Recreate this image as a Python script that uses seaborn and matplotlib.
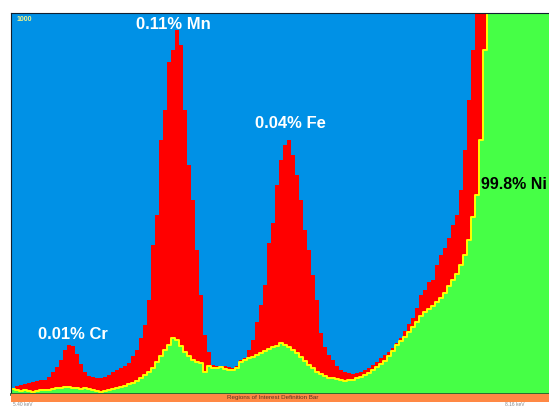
import numpy as np
import pandas as pd
import matplotlib
matplotlib.use("Agg")
import matplotlib.pyplot as plt
import seaborn as sns

# spectrum counts per channel (full scale = 1000)
red_counts = [16, 21, 24, 26, 29, 32, 34, 37, 37, 45, 58, 71, 89, 116, 129, 126, 105, 79, 58, 47,
              45, 42, 42, 45, 50, 58, 63, 68, 74, 81, 100, 116, 147, 181, 247, 391, 470, 667, 746, 872,
              903, 956, 916, 746, 601, 509, 378, 260, 155, 110, 76, 74, 71, 74, 71, 68, 74, 90, 95, 116,
              142, 189, 234, 286, 396, 449, 549, 614, 654, 667, 627, 575, 509, 431, 378, 312, 247, 160, 123, 102,
              89, 74, 63, 58, 55, 53, 55, 58, 63, 68, 76, 84, 95, 102, 110, 120, 135, 148, 165, 185,
              200, 225, 260, 273, 294, 299, 339, 365, 383, 410, 444, 470, 536, 641, 772, 903, 1200, 1200, 1200, 1200,
              1200, 1200, 1200, 1200, 1200, 1200, 1200, 1200, 1200, 1200, 1200, 1200, 1200, 1200, 1200]
green_counts = [13, 11, 8, 11, 8, 5, 8, 11, 11, 11, 13, 16, 16, 18, 18, 16, 16, 13, 16, 13,
                11, 8, 5, 8, 11, 13, 16, 18, 21, 26, 29, 34, 42, 50, 58, 68, 84, 100, 116, 129,
                147, 142, 126, 110, 100, 89, 84, 81, 58, 74, 68, 68, 71, 66, 63, 63, 68, 84, 89, 95,
                97, 102, 108, 113, 118, 123, 126, 134, 129, 123, 116, 108, 97, 87, 76, 68, 58, 53, 47, 42,
                42, 39, 37, 34, 37, 37, 42, 45, 50, 55, 63, 71, 79, 87, 100, 112, 128, 140, 150, 162,
                175, 188, 205, 215, 223, 231, 242, 252, 265, 284, 299, 315, 339, 365, 404, 465, 522, 667, 903, 1200,
                1200, 1200, 1200, 1200, 1200, 1200, 1200, 1200, 1200, 1200, 1200, 1200, 1200, 1200, 1200]
peak_labels = ["0.01% Cr", "0.11% Mn", "0.04% Fe", "99.8% Ni"]

n = len(red_counts)
df = pd.DataFrame({"channel": np.arange(n) + 0.5, "red": red_counts, "green": green_counts})

fig = plt.figure(figsize=(5.49, 4.07), dpi=100)
ax = fig.add_axes([11 / 549, 13 / 407, 540 / 549, 381 / 407])
ax.set_facecolor("#0091e6")

sns.histplot(data=df, x="channel", weights="red", bins=n, binrange=(0, n), element="step",
             fill=True, color="#ff0000", alpha=1, linewidth=0, ax=ax)
sns.histplot(data=df, x="channel", weights="green", bins=n, binrange=(0, n), element="step",
             fill=True, color="#46ff46", alpha=1, linewidth=0, ax=ax)
sns.histplot(data=df, x="channel", weights="green", bins=n, binrange=(0, n), element="step",
             fill=False, color="#ffff00", linewidth=1.4, ax=ax)

ax.set_xlim(0, n)
ax.set_ylim(0, 1000)
ax.set_xticks([])
ax.set_yticks([])
ax.set_xlabel("")
ax.set_ylabel("")
for s in ["top", "left", "right"]:
    ax.spines[s].set_color("#102030")
    ax.spines[s].set_linewidth(0.8)
ax.spines["bottom"].set_color("#2e5a2e")
ax.spines["bottom"].set_linewidth(2)

font = "Liberation Sans"
ax.text(1.5, 984, "1000", color="#f4f48a", fontsize=5, fontweight="bold", family=font, va="center")
ax.text(15.5, 157, peak_labels[0], color="white", fontsize=12, fontweight="bold", family=font,
        ha="center", va="center")
ax.text(40.5, 971, peak_labels[1], color="white", fontsize=12, fontweight="bold", family=font,
        ha="center", va="center")
ax.text(69.75, 709, peak_labels[2], color="white", fontsize=12, fontweight="bold", family=font,
        ha="center", va="center")
ax.text(117.6, 549, peak_labels[3], color="black", fontsize=11.5, fontweight="bold", family=font,
        ha="left", va="center")

# regions of interest bar
bar = fig.add_axes([11 / 549, 5 / 407, 540 / 549, 8 / 407])
bar.set_facecolor("#ff8844")
bar.set_xticks([])
bar.set_yticks([])
for s in bar.spines.values():
    s.set_visible(False)
bar.text(0.485, 0.5, "Regions of Interest Definition Bar", color="#553322", fontsize=4.5,
         family=font, ha="center", va="center", transform=bar.transAxes)

fig.text(13 / 549, 0.3 / 407, "5.40 keV", color="#888888", fontsize=3.5, family=font, va="bottom")
fig.text(505 / 549, 0.3 / 407, "8.16 keV", color="#888888", fontsize=3.5, family=font, va="bottom")

fig.savefig("out.png", dpi=100, facecolor="white")
